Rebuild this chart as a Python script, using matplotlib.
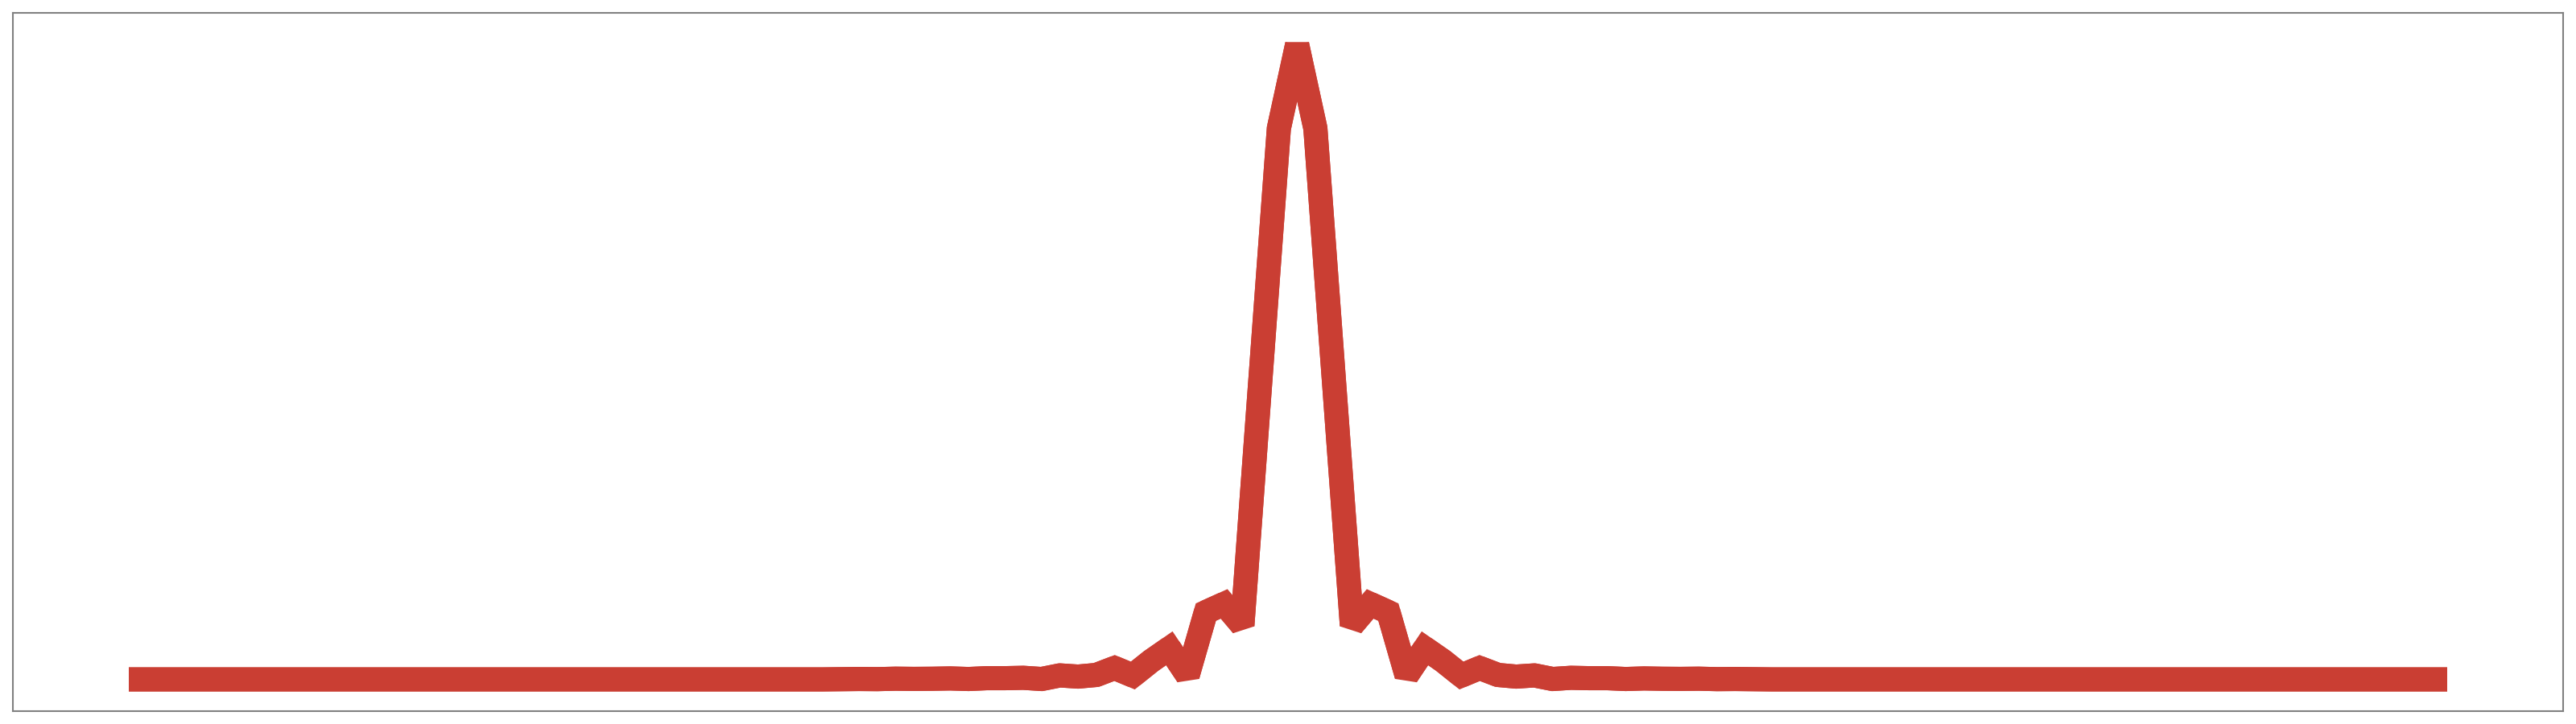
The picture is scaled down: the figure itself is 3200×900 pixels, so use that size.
import matplotlib
matplotlib.use("Agg")
import matplotlib.pyplot as plt

# spectrum magnitude, 128 bins, peak in bin 64 (peak = 1)
bins = list(range(128))

left_tail = [
    0.0, 0.0, 0.0, 0.0, 0.0, 0.0, 0.0, 0.0, 0.0, 0.0, 0.0, 0.0, 0.0,
    0.0, 0.0, 0.0, 0.0, 0.0, 0.0, 0.0, 0.0, 0.0, 0.0, 0.0, 0.0, 0.0,
    0.0, 0.0, 0.0, 0.0, 0.0, 0.0, 0.0, 0.0, 0.0, 0.0, 0.0, 0.0, 0.0,
]
left_lobes = [
    0.0003, 0.0006, 0.0004, 0.0011, 0.0008, 0.001, 0.0015, 0.0006,
    0.0019, 0.0019, 0.0025, 0.0006, 0.0063, 0.0044, 0.007, 0.018,
    0.006, 0.029, 0.049, 0.006, 0.106, 0.119, 0.085, 0.477, 0.868,
]
peak = [1.0]
right_lobes = [
    0.868, 0.477, 0.085, 0.119, 0.106, 0.006, 0.049, 0.029, 0.006,
    0.018, 0.007, 0.0044, 0.0063, 0.0006, 0.0025, 0.0019, 0.0019,
    0.0006, 0.0015, 0.001, 0.0008, 0.0011, 0.0004, 0.0006, 0.0003,
]
right_tail = [
    0.0, 0.0, 0.0, 0.0, 0.0, 0.0, 0.0, 0.0, 0.0, 0.0, 0.0, 0.0, 0.0,
    0.0, 0.0, 0.0, 0.0, 0.0, 0.0, 0.0, 0.0, 0.0, 0.0, 0.0, 0.0, 0.0,
    0.0, 0.0, 0.0, 0.0, 0.0, 0.0, 0.0, 0.0, 0.0, 0.0, 0.0, 0.0,
]
magnitude = left_tail + left_lobes + peak + right_lobes + right_tail

LINE_COLOR = "#ca3e33"
FRAME_COLOR = "#808080"
LINE_WIDTH = 21.6

# the very sharp corners get a bevel instead of a long miter spike
bevel_bins = [58, 61, 64, 67, 70]


def make_plot():
    fig = plt.figure(figsize=(32, 9), dpi=100)
    ax = fig.add_axes([16 / 3200, 16 / 900, 3168 / 3200, 868 / 900])

    # whole line with bevel joins
    ax.plot(bins, magnitude, color=LINE_COLOR, linewidth=LINE_WIDTH,
            solid_joinstyle="bevel", solid_capstyle="butt")

    # miter joins everywhere else: pieces that end at the bevelled corners
    cuts = [0] + bevel_bins + [len(bins) - 1]
    for a, b in zip(cuts[:-1], cuts[1:]):
        ax.plot(bins[a:b + 1], magnitude[a:b + 1], color=LINE_COLOR,
                linewidth=LINE_WIDTH, solid_joinstyle="miter",
                solid_capstyle="butt")

    ax.set_xticks([])
    ax.set_yticks([])
    for spine in ax.spines.values():
        spine.set_color(FRAME_COLOR)
        spine.set_linewidth(1.5)

    fig.savefig("out.png", dpi=100, facecolor="white")


if __name__ == "__main__":
    make_plot()
